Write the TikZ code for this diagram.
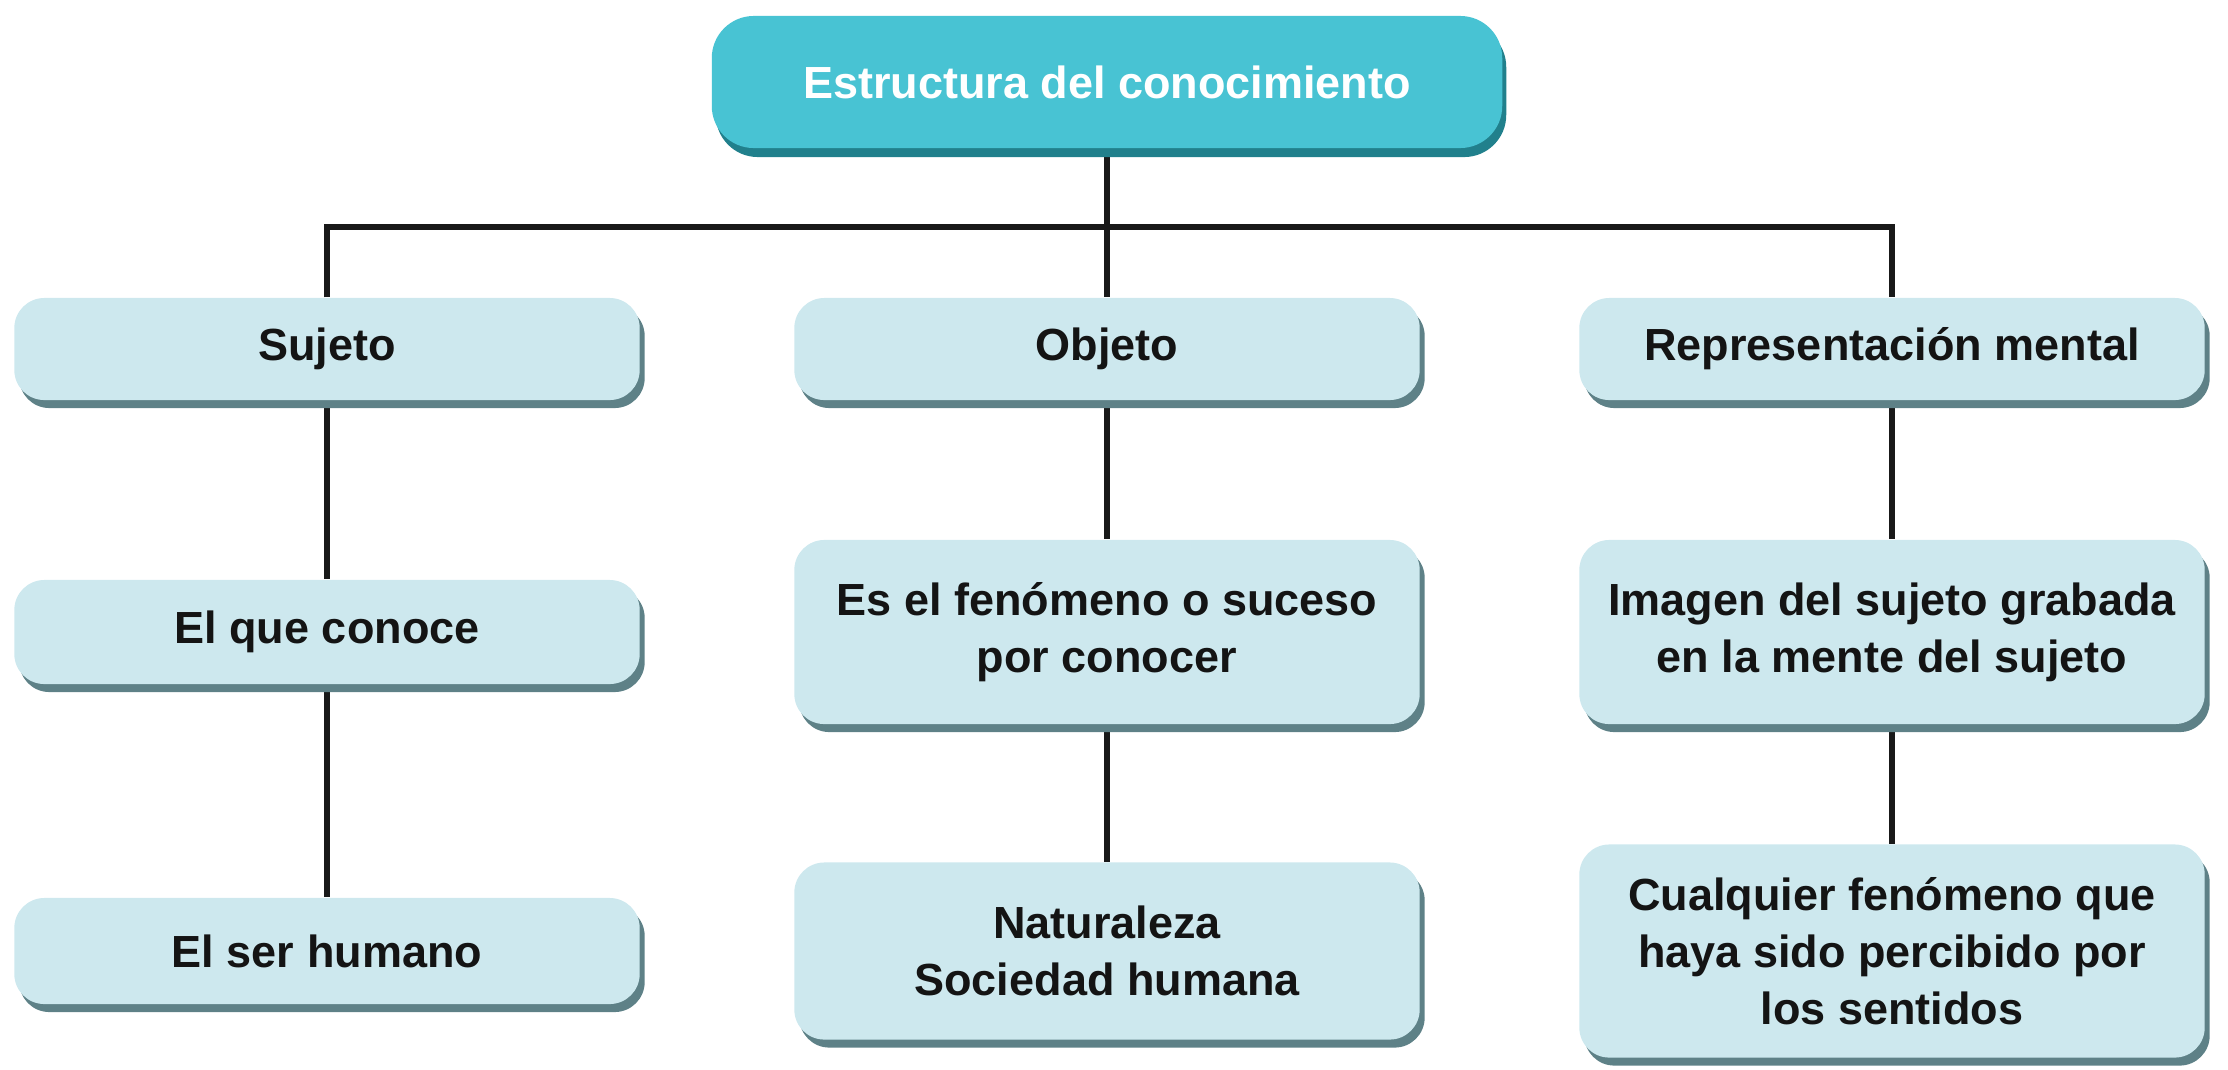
\documentclass[tikz,border=0pt]{standalone}
\usepackage{fontspec}
\setmainfont{Liberation Sans}
\usetikzlibrary{shadows,backgrounds}

\definecolor{headfill}{HTML}{48C3D3}
\definecolor{headshade}{HTML}{21808C}
\definecolor{cardfill}{HTML}{CDE8EE}
\definecolor{cardshade}{HTML}{5E8187}

\tikzset{
  cardbase/.style={rounded corners=0.3cm, minimum width=6.25cm, align=center,
    inner sep=0pt, font=\fontsize{12.8}{16.2}\selectfont\bfseries},
  card/.style={cardbase, fill=cardfill, text=black!92,
    general shadow={fill=cardshade, shadow xshift=0.05cm, shadow yshift=-0.08cm}},
  headcard/.style={cardbase, rounded corners=0.42cm, fill=headfill, text=white,
    minimum width=7.9cm,
    general shadow={fill=headshade, shadow xshift=0.04cm, shadow yshift=-0.09cm}},
  link/.style={line width=1.6pt, black!90}
}

\begin{document}
\begin{tikzpicture}[x=0.01cm, y=-0.01cm]
      \useasboundingbox (0,0) rectangle (2228,1069);

      % ---- head of the tree ----------------------------
      \node[headcard, minimum height=1.32cm] (estr) at (1107,82) {Estructura del conocimiento};

      % ---- first row -----------------------------------
      \node[card, minimum height=1.02cm] (suj) at (327,349) {Sujeto};
      \node[card, minimum height=1.02cm] (obj) at (1107,349) {Objeto};
      \node[card, minimum height=1.02cm] (rep) at (1892,349) {Representación mental};

      % ---- second row ----------------------------------
      \node[card, minimum height=1.04cm] (quecon) at (327,632) {El que conoce};
      \node[card, minimum height=1.84cm] (fen) at (1107,632) {Es el fenómeno o suceso\\por conocer};
      \node[card, minimum height=1.84cm] (img) at (1892,632) {Imagen del sujeto grabada\\en la mente del sujeto};

      % ---- third row -----------------------------------
      \node[card, minimum height=1.06cm] (humano) at (327,951) {El ser humano};
      \node[card, minimum height=1.77cm] (nat) at (1107,951) {Naturaleza\\Sociedad humana};
      \node[card, minimum height=2.13cm] (cual) at (1892,951) {Cualquier fenómeno que\\haya sido percibido por\\los sentidos};

      % ---- connectors behind the cards ------------------
      \begin{scope}[on background layer]
        \coordinate (hub) at (1107,227);
        \draw[link] (estr) -- (obj);
        \draw[link] (suj) |- (hub) -| (rep);
        \draw[link] (suj) -- (quecon) -- (humano);
        \draw[link] (obj) -- (fen) -- (nat);
        \draw[link] (rep) -- (img) -- (cual);
      \end{scope}
    \end{tikzpicture}
\end{document}
